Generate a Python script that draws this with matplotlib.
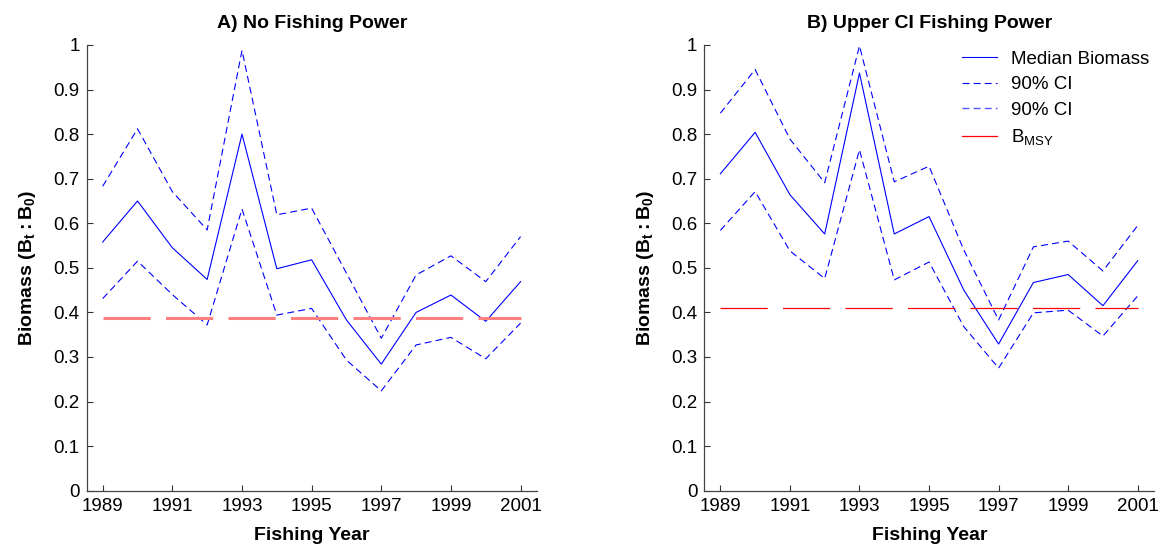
import numpy as np
import matplotlib
matplotlib.use("Agg")
import matplotlib.pyplot as plt
from matplotlib.lines import Line2D

plt.rcParams['font.family'] = ['Liberation Sans', 'DejaVu Sans']
plt.rcParams['mathtext.fontset'] = 'custom'
plt.rcParams['mathtext.rm'] = 'Liberation Sans'
plt.rcParams['mathtext.bf'] = 'Liberation Sans:bold'
plt.rcParams['lines.scale_dashes'] = False

years = np.arange(1989, 2002)

# A) no fishing power
med_a = [0.558, 0.650, 0.545, 0.474, 0.800, 0.498, 0.518, 0.383, 0.284, 0.400, 0.439, 0.380, 0.469]
upr_a = [0.683, 0.812, 0.671, 0.585, 0.988, 0.619, 0.634, 0.488, 0.342, 0.484, 0.527, 0.469, 0.570]
lwr_a = [0.431, 0.515, 0.440, 0.372, 0.632, 0.394, 0.409, 0.293, 0.224, 0.327, 0.344, 0.296, 0.376]
bmsy_a = 0.388

# B) upper CI fishing power
med_b = [0.711, 0.804, 0.664, 0.576, 0.937, 0.576, 0.615, 0.450, 0.329, 0.467, 0.485, 0.415, 0.516]
upr_b = [0.847, 0.945, 0.789, 0.691, 0.998, 0.693, 0.728, 0.540, 0.383, 0.547, 0.560, 0.493, 0.595]
lwr_b = [0.584, 0.671, 0.538, 0.476, 0.765, 0.473, 0.513, 0.368, 0.275, 0.399, 0.405, 0.347, 0.437]
bmsy_b = 0.411

BLUE = '#0000ff'
CI_DASH = (0, (5, 3))
BMSY_DASH = (0, (34, 11))

fig = plt.figure(figsize=(11.65, 5.46), dpi=100)
ax_a = fig.add_axes([0.0744, 0.1013, 0.3868, 0.8163])
ax_b = fig.add_axes([0.6046, 0.1013, 0.3863, 0.8163])


def draw_panel(ax, title, med, upr, lwr, bmsy, bmsy_color, bmsy_lw):
    ax.plot(years, med, color=BLUE, lw=0.8)
    ax.plot(years, upr, color=BLUE, lw=0.8, linestyle=CI_DASH)
    ax.plot(years, lwr, color=BLUE, lw=0.8, linestyle=CI_DASH)
    ax.plot(years, [bmsy] * len(years), color=bmsy_color, lw=bmsy_lw,
            linestyle=BMSY_DASH)

    ax.set_xlim(1988.54, 2001.48)
    ax.set_ylim(0, 1)
    ax.set_xticks(np.arange(1989, 2002, 2))
    yt = np.round(np.arange(0, 1.01, 0.1), 1)
    ax.set_yticks(yt)
    ax.set_yticklabels([f'{v:g}' for v in yt])
    ax.tick_params(direction='in', length=4, width=0.8, labelsize=13.5,
                   color='#333333')
    ax.tick_params(axis='x', pad=5)
    ax.tick_params(axis='y', pad=5)
    for side in ('top', 'right'):
        ax.spines[side].set_visible(False)
    for side in ('left', 'bottom'):
        ax.spines[side].set_color('#444444')
        ax.spines[side].set_linewidth(0.9)

    ax.set_title(title, fontsize=14, fontweight='bold', pad=12)
    ax.set_xlabel('Fishing Year', fontsize=14, fontweight='bold', labelpad=9)
    ax.set_ylabel(r'Biomass ($\mathbf{B_t{:}B_0}$)', fontsize=14,
                  fontweight='bold', labelpad=11)


draw_panel(ax_a, 'A) No Fishing Power', med_a, upr_a, lwr_a, bmsy_a, '#ff8080', 2.2)
draw_panel(ax_b, 'B) Upper CI Fishing Power', med_b, upr_b, lwr_b, bmsy_b, '#ff0000', 0.9)

handles = [
    Line2D([], [], color=BLUE, lw=0.8),
    Line2D([], [], color=BLUE, lw=0.8, linestyle=CI_DASH),
    Line2D([], [], color='#5555ff', lw=1.0, linestyle=CI_DASH),
    Line2D([], [], color='#ff0000', lw=0.9),
]
labels = ['Median Biomass', '90% CI', '90% CI', r'B$_{\mathregular{MSY}}$']
ax_b.legend(handles, labels, loc='upper right', frameon=False, fontsize=13.5,
            handlelength=1.9, handletextpad=0.7, labelspacing=0.45,
            borderaxespad=0.0, borderpad=0.3)

fig.savefig('out.png', dpi=100)
